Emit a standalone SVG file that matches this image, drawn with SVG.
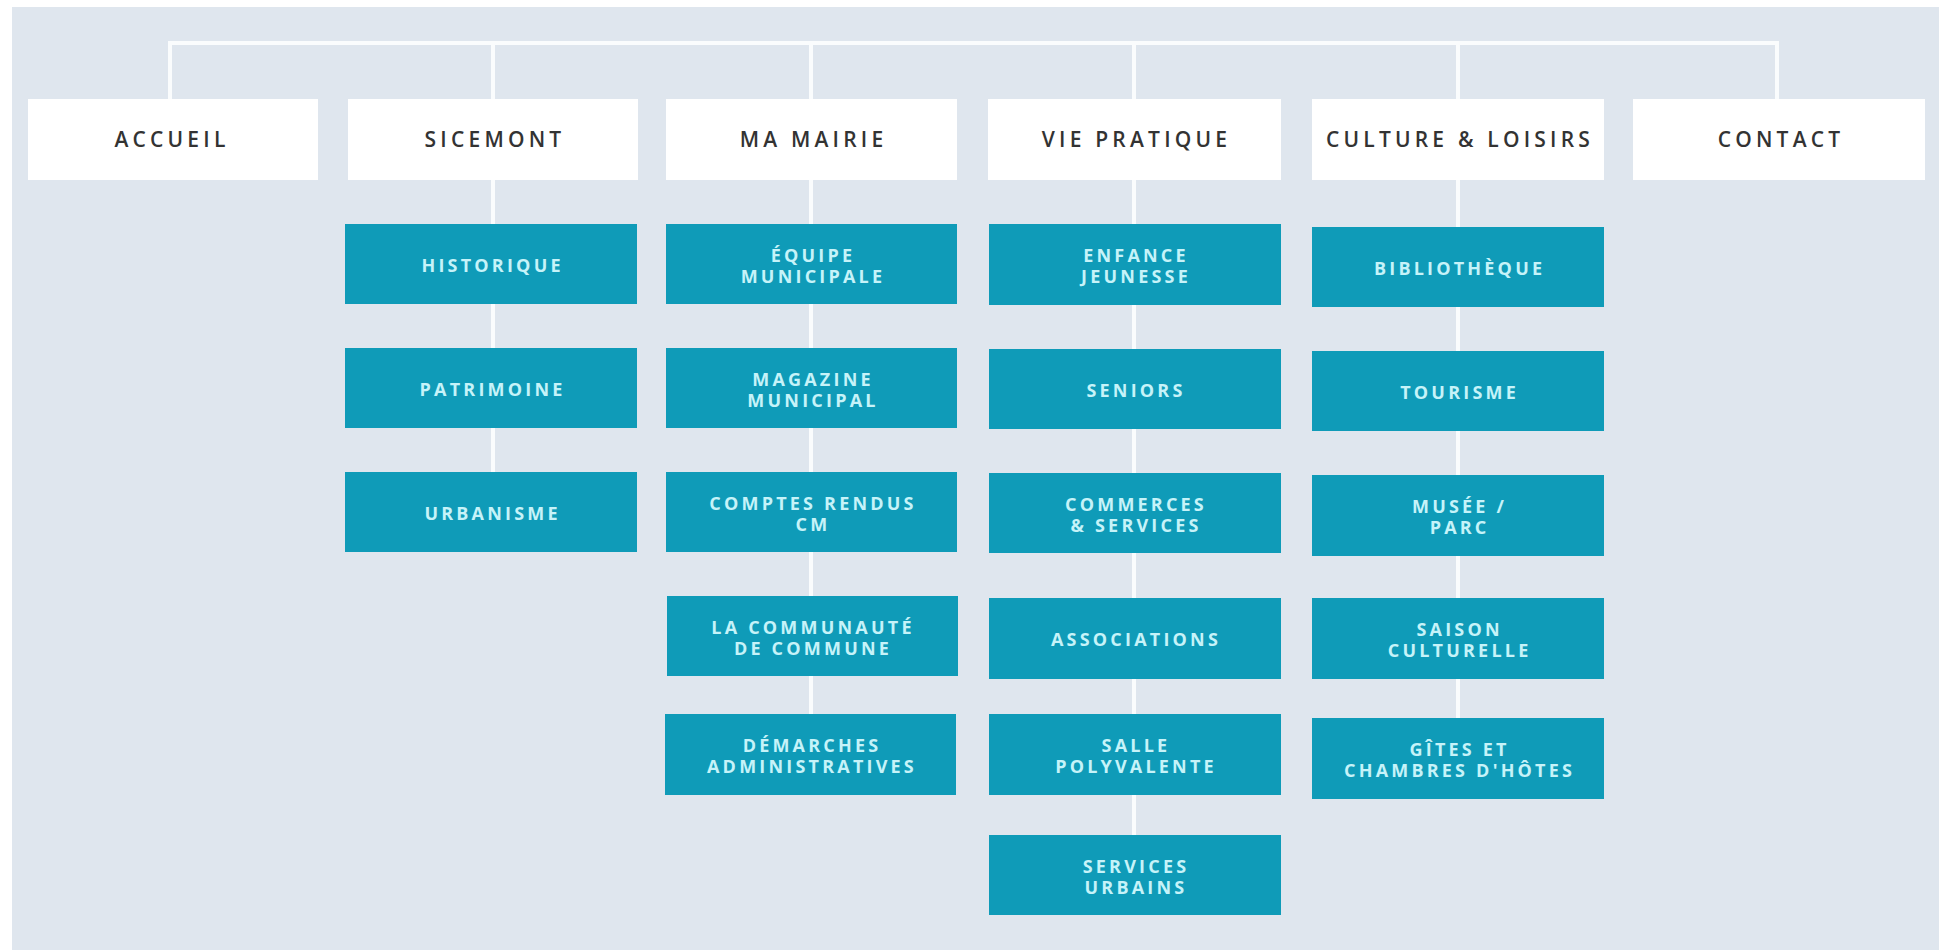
<svg xmlns="http://www.w3.org/2000/svg" width="1939" height="950" viewBox="0 0 1939 950">
<style>
.bg{fill:#dfe6ee}
.line{stroke:#fafcfd;stroke-width:4;fill:none;stroke-linecap:square}
.top rect{fill:#ffffff}
.top text{font-family:"Open Sans","Liberation Sans",sans-serif;font-size:21px;font-weight:600;fill:#333333;letter-spacing:4.2px;text-anchor:middle}
.sub rect{fill:#0f9bb8}
.sub text{font-family:"Open Sans","Liberation Sans",sans-serif;font-size:18px;font-weight:700;fill:#c6f3f9;letter-spacing:3.2px;text-anchor:middle}
</style>
<rect x="0" y="0" width="1939" height="950" fill="#ffffff"/>
<rect class="bg" x="12" y="7" width="1927" height="943"/>
<g id="connectors">
<path class="line" d="M170 43 H1777"/>
<path class="line" d="M170 43 V99 M493 43 V99 M811 43 V99 M1134 43 V99 M1458 43 V99 M1777 43 V99"/>
<path class="line" d="M493 180 V472"/>
<path class="line" d="M811 180 V714"/>
<path class="line" d="M1134 180 V835"/>
<path class="line" d="M1458 180 V718"/>
</g>
<g id="accueil" class="top"><rect x="28" y="99" width="290" height="81"/><text x="172" y="147">ACCUEIL</text></g>
<g id="sicemont" class="top"><rect x="348" y="99" width="290" height="81"/><text x="495" y="147">SICEMONT</text></g>
<g id="ma-mairie" class="top"><rect x="666" y="99" width="291" height="81"/><text x="813.5" y="147">MA MAIRIE</text></g>
<g id="vie-pratique" class="top"><rect x="988" y="99" width="293" height="81"/><text x="1136.5" y="147">VIE PRATIQUE</text></g>
<g id="culture-loisirs" class="top"><rect x="1312" y="99" width="292" height="81"/><text x="1460" y="147">CULTURE &amp; LOISIRS</text></g>
<g id="contact" class="top"><rect x="1633" y="99" width="292" height="81"/><text x="1781" y="147">CONTACT</text></g>

<g id="historique" class="sub"><rect x="345" y="224" width="292" height="80"/><text x="492.6" y="272">HISTORIQUE</text></g>
<g id="patrimoine" class="sub"><rect x="345" y="348" width="292" height="80"/><text x="492.6" y="396">PATRIMOINE</text></g>
<g id="urbanisme" class="sub"><rect x="345" y="472" width="292" height="80"/><text x="492.6" y="520">URBANISME</text></g>

<g id="equipe-municipale" class="sub"><rect x="666" y="224" width="291" height="80"/><text x="813" y="262">ÉQUIPE</text><text x="813" y="283">MUNICIPALE</text></g>
<g id="magazine-municipal" class="sub"><rect x="666" y="348" width="291" height="80"/><text x="813" y="386">MAGAZINE</text><text x="813" y="407">MUNICIPAL</text></g>
<g id="comptes-rendus" class="sub"><rect x="666" y="472" width="291" height="80"/><text x="813" y="510">COMPTES RENDUS</text><text x="813" y="531">CM</text></g>
<g id="communaute" class="sub"><rect x="667" y="596" width="291" height="80"/><text x="813" y="634">LA COMMUNAUTÉ</text><text x="813" y="655">DE COMMUNE</text></g>
<g id="demarches" class="sub"><rect x="665" y="714" width="291" height="81"/><text x="812" y="752">DÉMARCHES</text><text x="812" y="773">ADMINISTRATIVES</text></g>

<g id="enfance-jeunesse" class="sub"><rect x="989" y="224" width="292" height="81"/><text x="1136" y="262">ENFANCE</text><text x="1136" y="283">JEUNESSE</text></g>
<g id="seniors" class="sub"><rect x="989" y="349" width="292" height="80"/><text x="1136" y="397">SENIORS</text></g>
<g id="commerces" class="sub"><rect x="989" y="473" width="292" height="80"/><text x="1136" y="511">COMMERCES</text><text x="1136" y="532">&amp; SERVICES</text></g>
<g id="associations" class="sub"><rect x="989" y="598" width="292" height="81"/><text x="1136" y="646">ASSOCIATIONS</text></g>
<g id="salle-polyvalente" class="sub"><rect x="989" y="714" width="292" height="81"/><text x="1136" y="752">SALLE</text><text x="1136" y="773">POLYVALENTE</text></g>
<g id="services-urbains" class="sub"><rect x="989" y="835" width="292" height="80"/><text x="1136" y="873">SERVICES</text><text x="1136" y="894">URBAINS</text></g>

<g id="bibliotheque" class="sub"><rect x="1312" y="227" width="292" height="80"/><text x="1459.6" y="275">BIBLIOTHÈQUE</text></g>
<g id="tourisme" class="sub"><rect x="1312" y="351" width="292" height="80"/><text x="1459.6" y="399">TOURISME</text></g>
<g id="musee-parc" class="sub"><rect x="1312" y="475" width="292" height="81"/><text x="1459.6" y="513">MUSÉE /</text><text x="1459.6" y="534">PARC</text></g>
<g id="saison-culturelle" class="sub"><rect x="1312" y="598" width="292" height="81"/><text x="1459.6" y="636">SAISON</text><text x="1459.6" y="657">CULTURELLE</text></g>
<g id="gites-chambres" class="sub"><rect x="1312" y="718" width="292" height="81"/><text x="1459.6" y="756">GÎTES ET</text><text x="1459.6" y="777">CHAMBRES D'HÔTES</text></g>
</svg>
